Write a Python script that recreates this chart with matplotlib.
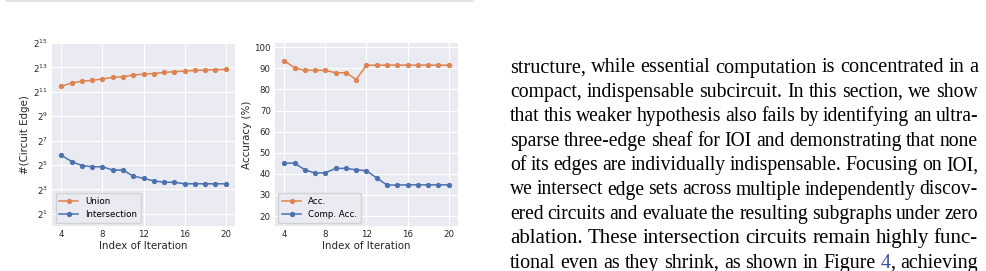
import matplotlib
matplotlib.use("Agg")
import matplotlib.pyplot as plt
from matplotlib.lines import Line2D

# data
iterations = list(range(4, 21))
union_edges = [2800, 3370, 3720, 3930, 4240, 4640, 4840, 5290, 5590, 5790,
               6160, 6430, 6650, 6890, 7030, 7180, 7330]
intersection_edges = [56, 39, 31, 29, 29, 24, 24, 17, 15, 13, 12, 12, 11, 11, 11, 11, 11]
acc = [93.7, 90.2, 89.1, 89.1, 89.0, 87.9, 87.9, 84.7, 91.5, 91.5, 91.5,
       91.5, 91.5, 91.5, 91.5, 91.5, 91.5]
comp_acc = [45.1, 45.1, 41.9, 40.4, 40.5, 42.6, 42.6, 41.9, 41.5, 38.0,
            34.7, 34.7, 34.8, 34.8, 34.8, 34.8, 34.8]
edge_ticks = [1, 3, 5, 7, 9, 11, 13, 15]
acc_ticks = [20, 30, 40, 50, 60, 70, 80, 90, 100]
x_ticks = [4, 8, 12, 16, 20]

paragraph = [
    "structure, while essential computation is concentrated in a",
    "compact, indispensable subcircuit. In this section, we show",
    "that this weaker hypothesis also fails by identifying an ultra-",
    "sparse three-edge sheaf for IOI and demonstrating that none",
    "of its edges are individually indispensable. Focusing on IOI,",
    "we intersect edge sets across multiple independently discov-",
    "ered circuits and evaluate the resulting subgraphs under zero",
    "ablation.  These intersection circuits remain highly func-",
    "tional even as they shrink, as shown in Figure 4, achieving",
]

BLUE = "#4C72B0"
ORANGE = "#DD8452"
TXT = "#262626"

plt.rcParams["font.family"] = "DejaVu Sans"
plt.rcParams["axes.unicode_minus"] = False

W, H = 987, 271
fig = plt.figure(figsize=(W / 100, H / 100), dpi=100)


def style_axes(ax):
    ax.set_facecolor("#EAEAF2")
    for s in ax.spines.values():
        s.set_visible(False)
    ax.grid(True, color="white", linewidth=0.8)
    ax.set_axisbelow(True)
    ax.tick_params(length=0, labelsize=6.2, labelcolor=TXT, pad=3)


ax1 = fig.add_axes([52 / W, 1 - 226 / H, 183 / W, 183 / H])
style_axes(ax1)
ax1.plot(iterations, union_edges, "o-", color=ORANGE, lw=1.1, ms=2.8, label="Union")
ax1.plot(iterations, intersection_edges, "o-", color=BLUE, lw=1.1, ms=2.8, label="Intersection")
ax1.set_yscale("log", base=2)
ax1.set_ylim(1, 2 ** 15)
ax1.set_yticks([2 ** e for e in edge_ticks])
ax1.set_yticklabels([f"$2^{{{e}}}$" for e in edge_ticks])
ax1.minorticks_off()
ax1.set_xticks(x_ticks)
ax1.set_xlim(3.1, 20.9)
ax1.set_xlabel("Index of Iteration", fontsize=7.4, color=TXT, labelpad=1)
ax1.set_ylabel("#(Circuit Edge)", fontsize=7.4, color=TXT, labelpad=2)
ax1.legend(loc="lower left", fontsize=6.3, facecolor="#EAEAF2", edgecolor="#cccccc",
           framealpha=0.8, handlelength=2.2, borderaxespad=0.4)

ax2 = fig.add_axes([275 / W, 1 - 226 / H, 183 / W, 183 / H])
style_axes(ax2)
ax2.plot(iterations, acc, "o-", color=ORANGE, lw=1.1, ms=2.8, label="Acc.")
ax2.plot(iterations, comp_acc, "o-", color=BLUE, lw=1.1, ms=2.8, label="Comp. Acc.")
ax2.set_ylim(15.3, 102)
ax2.set_yticks(acc_ticks)
ax2.set_xticks(x_ticks)
ax2.set_xlim(3.1, 20.9)
ax2.set_xlabel("Index of Iteration", fontsize=7.4, color=TXT, labelpad=1)
ax2.set_ylabel("Accuracy (%)", fontsize=7.4, color=TXT, labelpad=2)
ax2.legend(loc="lower left", fontsize=6.3, facecolor="#EAEAF2", edgecolor="#cccccc",
           framealpha=0.8, handlelength=2.2, borderaxespad=0.4)

# thin rule at the top of the page crop
fig.add_artist(Line2D([6 / W, 473 / W], [1 - 0.8 / H, 1 - 0.8 / H],
                      transform=fig.transFigure, color="#dddddd", lw=1.2))

# justified paragraph on the right
renderer = fig.canvas.get_renderer()
x_left, x_right = 510, 978
base_fs = 15


def make_words(line, y, fs):
    out = []
    for w in line.split():
        if w == "4,":
            parts = [("4", "#3b4ba8"), (",", "black")]
        else:
            parts = [(w, "black")]
        segs = []
        for s, c in parts:
            t = fig.text(0, y, s, fontsize=fs, family="Liberation Serif",
                         color=c, va="baseline", ha="left")
            segs.append([t, t.get_window_extent(renderer).width])
        out.append(segs)
    return out


for i, line in enumerate(paragraph):
    y = 1 - (72.5 + 24.4 * i) / H
    words = make_words(line, y, base_fs)
    ngaps = len(words) - 1
    total = sum(bw for segs in words for _, bw in segs)
    fs = base_fs * (x_right - x_left - ngaps * 4.6) / total
    fs = min(max(fs, 14.1), 15.0)
    for segs in words:
        for seg in segs:
            seg[0].set_fontsize(fs)
            seg[1] = seg[0].get_window_extent(renderer).width
    widths = [sum(bw for _, bw in segs) for segs in words]
    gap = (x_right - x_left - sum(widths)) / ngaps
    x = x_left
    for segs, wtot in zip(words, widths):
        xx = x
        for t, bw in segs:
            t.set_x(xx / W)
            xx += bw
        x += wtot + gap

fig.savefig("out.png", dpi=100)
